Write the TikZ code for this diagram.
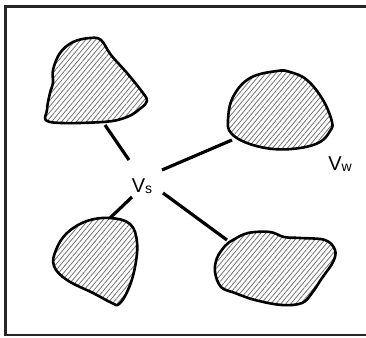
\documentclass[tikz,border=0pt]{standalone}
\usepackage{fontspec}
\setmainfont{Liberation Sans}
\usetikzlibrary{patterns.meta}
\tikzset{
  blob/.style={line width=2.6pt,line join=round,
    pattern={Lines[angle=50,distance=3.8pt,line width=0.8pt]},pattern color=black!55},
  link/.style={line width=3.2pt},
  tag/.style={inner sep=0pt,font=\fontsize{20}{20}\selectfont}
}
\newcommand{\sub}[1]{\raisebox{-1.5pt}{\fontsize{14}{14}\selectfont #1}}
\begin{document}
\begin{tikzpicture}[x=1pt,y=-1pt]
\useasboundingbox (0,0) rectangle (366,337);
\draw[line width=2.6pt,black!85] (380,6.5) -- (5.5,6.5) -- (5.5,335) -- (380,335);
% the four regions
\draw[blob] plot[smooth cycle,tension=0.6] coordinates {(90,38) (101,40) (111,55) (127,73) (143,93) (147,101)
  (141,108) (127,117) (103,122) (50,122) (47,110) (50,93) (53,83) (53,70) (60,53) (73,42)};
\draw[blob] plot[smooth cycle,tension=0.65] coordinates {(277,71) (250,78) (233,97) (228,120) (231,133)
  (247,143) (273,149) (300,148) (320,142) (330,131) (332,122) (323,100) (307,80) (290,72)};
\draw[blob] plot[smooth cycle,tension=0.65] coordinates {(110,218) (130,224) (137,242) (135,267) (128,290)
  (119,304) (112,303) (93,293) (67,280) (54,266) (56,250) (67,233) (87,221)};
\draw[blob] plot[smooth cycle,tension=0.6] coordinates {(233,240) (248,233) (270,232) (284,237) (300,238)
  (325,240) (335,250) (333,262) (322,278) (312,293) (302,303) (282,305) (255,300) (235,293) (221,287)
  (215,272) (217,258) (225,246)};
% labels
\node[tag] (vs) at (142,186) {V\sub{s}};
\node[tag] (vw) at (340,164) {V\sub{w}};
% ends of the connectors
\coordinate (b1) at (105,125);
\coordinate (b2) at (232,140);
\coordinate (b3) at (110,218);
\coordinate (b4) at (227,240);
\coordinate (s1) at (129,160);
\coordinate (s2) at (162,170);
\coordinate (s3) at (132,197);
\coordinate (s4) at (163,193);
\draw[link] (b1) -- (s1);
\draw[link] (b2) -- (s2);
\draw[link] (b3) -- (s3);
\draw[link] (b4) -- (s4);
\end{tikzpicture}
\end{document}
